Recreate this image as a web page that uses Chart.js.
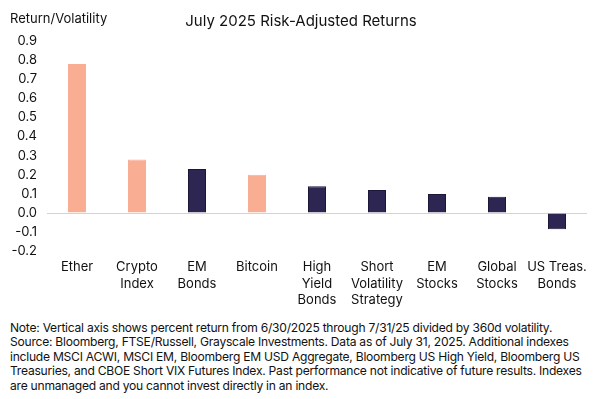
<!DOCTYPE html>
<html>
<head>
<meta charset="utf-8">
<script src="https://cdn.jsdelivr.net/npm/chart.js@4"></script>
<style>
  body { margin: 0; background: #fff; font-family: Inter, "Open Sans", sans-serif; }
  #wrap { position: relative; width: 600px; height: 308px; }
  #note { position: absolute; left: 10px; top: 321px; width: 590px; font-size: 12.1px; line-height: 14.4px; color: #111; letter-spacing: -0.25px; }
</style>
</head>
<body>
<div id="wrap"><canvas id="riskChart"></canvas></div>
<div id="note">Note: Vertical axis shows percent return from 6/30/2025 through 7/31/25 divided by 360d volatility.<br>Source: Bloomberg, FTSE/Russell, Grayscale Investments. Data as of July 31, 2025. Additional indexes<br>include MSCI ACWI, MSCI EM, Bloomberg EM USD Aggregate, Bloomberg US High Yield, Bloomberg US<br>Treasuries, and CBOE Short VIX Futures Index. Past performance not indicative of future results. Indexes<br>are unmanaged and you cannot invest directly in an index.</div>
<script>
const categories = [
    'Ether', ['Crypto', 'Index'], ['EM', 'Bonds'], 'Bitcoin',
    ['High', 'Yield', 'Bonds'], ['Short', 'Volatility', 'Strategy'],
    ['EM', 'Stocks'], ['Global', 'Stocks'], ['US Treas.', 'Bonds']
];
const riskAdjusted = [0.78, 0.28, 0.23, 0.20, 0.14, 0.12, 0.10, 0.085, -0.085];
const isCrypto = [true, true, false, true, false, false, false, false, false];

const salmon = '#F9AE94';
const navy = '#2D2652';

const headerText = {
    id: 'headerText',
    afterDraw(chart) {
        const c = chart.ctx;
        c.save();
        c.fillStyle = '#111';
        c.textBaseline = 'middle';
        c.font = '13px Inter, "Open Sans", sans-serif';
        c.textAlign = 'left';
        c.fillText('Return/Volatility', 10, 19);
        c.font = '15px Inter, "Open Sans", sans-serif';
        c.textAlign = 'center';
        c.fillText('July 2025 Risk-Adjusted Returns', 301, 21);
        c.restore();
    }
};

const ctx = document.getElementById('riskChart').getContext('2d');
const riskChart = new Chart(ctx, {
    type: 'bar',
    data: {
        labels: categories,
        datasets: [{
            data: riskAdjusted,
            backgroundColor: isCrypto.map(c => c ? salmon : navy),
            borderColor: isCrypto.map(c => c ? salmon : '#1c1738'),
            borderWidth: 1,
            barPercentage: 0.3,
            categoryPercentage: 1
        }]
    },
    options: {
        responsive: true,
        maintainAspectRatio: false,
        animation: false,
        layout: { padding: { top: 41, right: 13, left: 0, bottom: 0 } },
        plugins: {
            legend: { display: false },
            tooltip: { enabled: false }
        },
        scales: {
            x: {
                grid: { display: false },
                border: { display: false },
                ticks: {
                    color: '#111',
                    font: { size: 13, lineHeight: 1.25, family: 'Inter, "Open Sans", sans-serif' },
                    maxRotation: 0,
                    autoSkip: false,
                    padding: 0
                }
            },
            y: {
                min: -0.2,
                max: 0.9,
                afterFit(scale) { scale.width = 47; },
                border: { display: false },
                grid: {
                    drawTicks: false,
                    color: c => c.tick && Math.abs(c.tick.value) < 1e-9 ? '#d3d3d3' : 'rgba(0,0,0,0)'
                },
                ticks: {
                    stepSize: 0.1,
                    padding: 10,
                    color: '#111',
                    font: { size: 13, family: 'Inter, "Open Sans", sans-serif' },
                    callback: v => v.toFixed(1)
                }
            }
        }
    },
    plugins: [headerText]
});
</script>
</body>
</html>
